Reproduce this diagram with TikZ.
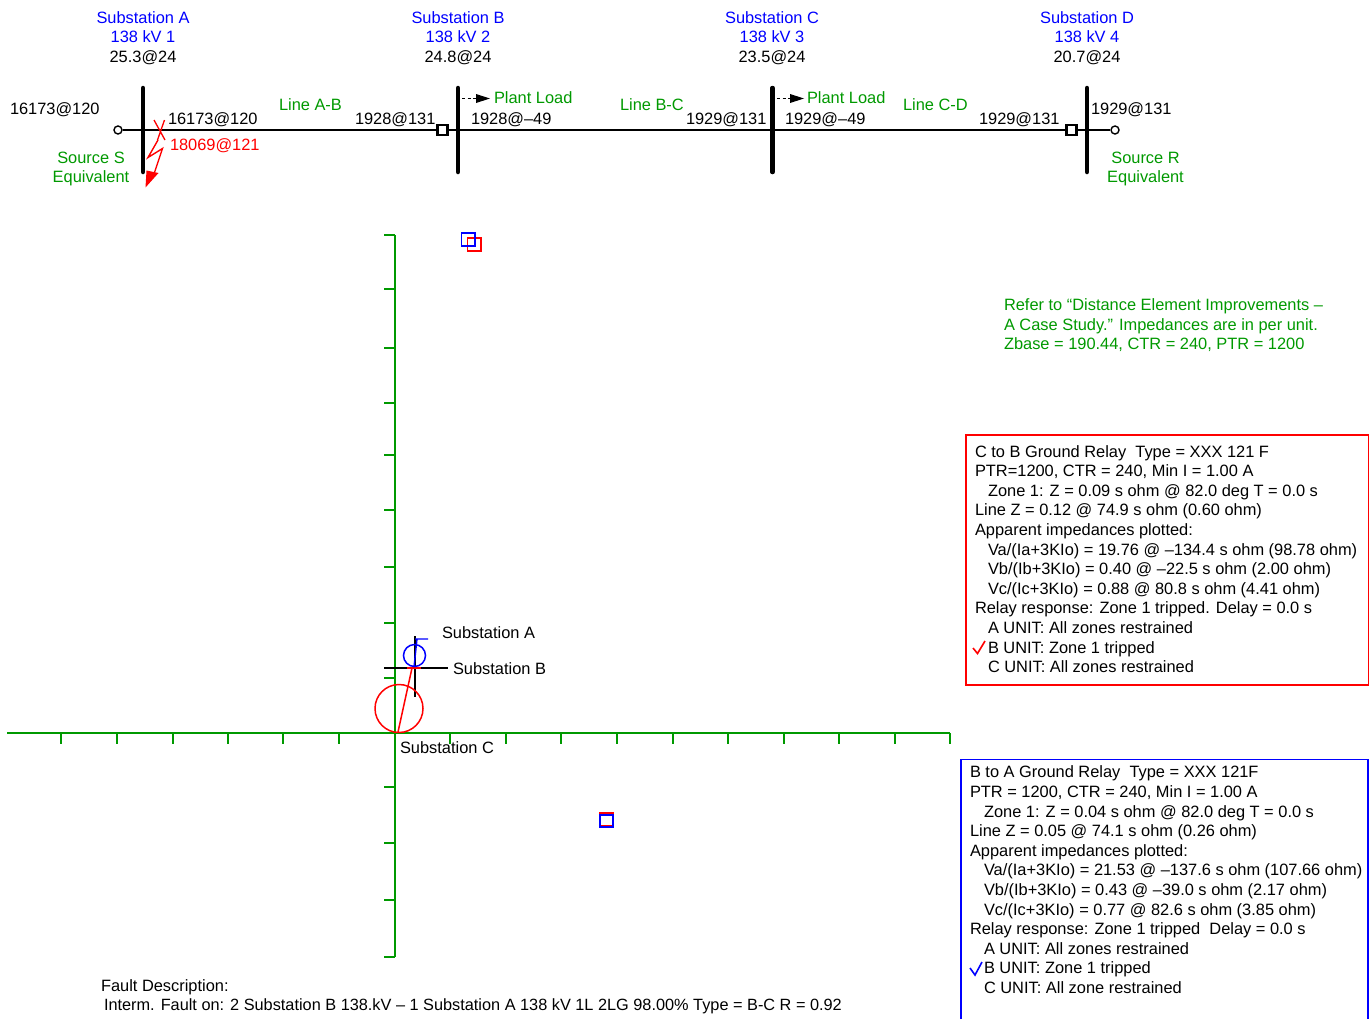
\documentclass[tikz,border=0pt]{standalone}
\usepackage{fontspec}
\setmainfont{Liberation Sans}
\definecolor{grn}{RGB}{0,153,0}
\tikzset{
  x=1bp,y=-1bp,
  txt/.style={inner sep=0pt,outer sep=0pt,anchor=base west,font=\fontsize{16.4bp}{19bp}\selectfont,text=black},
  ctr/.style={txt,anchor=base},
  gtxt/.style={txt,text=grn},
  rtxt/.style={txt,text=red},
  busbar/.style={line width=4.5bp,line cap=round,black},
  term/.style={circle,draw=black,fill=white,line width=1.4bp,minimum size=8bp,inner sep=0pt},
  brk/.style={rectangle,draw=black,fill=white,line width=2.2bp,minimum size=10bp,inner sep=0pt},
  axis/.style={draw=grn,line width=1.4bp},
  loadflow/.style={black,line width=1.3bp,dash pattern=on 3bp off 2.5bp},
}
\begin{document}
\begin{tikzpicture}
\useasboundingbox (0,0) rectangle (1372,1019);
% one-line diagram
\node[term] (srcS) at (118,130) {};
\node[term] (srcR) at (1115,130) {};
\node[brk] (brkB) at (442.5,130) {};
\node[brk] (brkD) at (1071.5,130) {};
\draw[line width=1.4bp] (srcS) -- (brkB) -- (brkD) -- (srcR);
\foreach \n/\x in {A/143,B/458,C/772.5,D/1087}{
  \coordinate (bus\n t) at (\x,88);
  \coordinate (bus\n b) at (\x,172);
  \draw[busbar] (bus\n t) -- (bus\n b);
}
\node[brk] (brkBtop) at (442.5,130) {};
\node[brk] (brkDtop) at (1071.5,130) {};
% plant loads
\coordinate (la) at (462,98.5); \coordinate (lb) at (476,98.5); \coordinate (lc) at (490,98.5);
\coordinate (ld) at (777,98.5); \coordinate (le) at (790,98.5); \coordinate (lf) at (804,98.5);
\draw[loadflow] (la) -- (lb);
\draw[loadflow] (ld) -- (le);
\fill (lb) ++(0,-4.5) -- (lc) -- (476,103) -- cycle;
\fill (le) ++(0,-4.5) -- (lf) -- (790,103) -- cycle;
% fault
\draw[red,line width=1.3bp] (154,120) -- (165,140) (164.5,120) -- (157.5,140);
\draw[red,line width=1.4bp] (158,140) -- (148,157.5) -- (162.5,148.5) -- (154,174);
\fill[red] (145.5,187.5) -- (146.5,170.5) -- (158.5,173) -- cycle;
% header labels
\foreach \i/\x/\na/\nb/\v in {1/143/A/1/25.3@24,2/458/B/2/24.8@24,3/772/C/3/23.5@24,4/1087/D/4/20.7@24}{
  \node[ctr,text=blue] (subn\i) at (\x,23) {Substation \na};
  \node[ctr,text=blue] (subk\i) at (\x,42) {138 kV \nb};
  \node[ctr] (subv\i) at (\x,62) {\v};
}
\node[txt] (f1) at (10,114) {16173@120};
\node[txt] (f2) at (168,124) {16173@120};
\node[rtxt] (f3) at (170,150) {18069@121};
\node[gtxt] (l1) at (279,110) {Line A-B};
\node[txt] (f4) at (355,124) {1928@131};
\node[txt] (f5) at (471,124) {1928@–49};
\node[gtxt] (p1) at (494,103) {Plant Load};
\node[gtxt] (l2) at (620,110) {Line B-C};
\node[txt] (f6) at (686,124) {1929@131};
\node[txt] (f7) at (785,124) {1929@–49};
\node[gtxt] (p2) at (807,103) {Plant Load};
\node[gtxt] (l3) at (903,110) {Line C-D};
\node[txt] (f8) at (979,124) {1929@131};
\node[txt] (f9) at (1091,114) {1929@131};
\node[ctr,text=grn] (s1) at (91,163) {Source S};
\node[ctr,text=grn] (s2) at (91,182) {Equivalent};
\node[ctr,text=grn] (s3) at (1145.5,163) {Source R};
\node[ctr,text=grn] (s4) at (1145.5,182) {Equivalent};
% note
\node[gtxt] (n1) at (1004,310) {Refer to “Distance Element Improvements –};
\node[gtxt] (n2) at (1004,330) {A Case Study.” Impedances are in per unit.};
\node[gtxt] (n3) at (1004,349) {Zbase = 190.44, CTR = 240, PTR = 1200};
% axes
\coordinate (vt) at (395,235); \coordinate (vb) at (395,957);
\coordinate (hl) at (7,733); \coordinate (hr) at (950,733);
\draw[axis] (vt) -- (vb);
\draw[axis] (hl) -- (hr);
\foreach \y in {235,289,348,403,455,510,567,623,678,787,843,900,957}
  \draw[axis] (384,\y) -- (395,\y);
\foreach \x in {61,117,173,228,283,339,450,506,561,617,673,728,784,839,895,950}
  \draw[axis] (\x,733) -- (\x,744);
% plot
\draw[line width=1.3bp] (415,636) -- (415,697);
\draw[line width=1.3bp] (384,668) -- (448,668);
\draw[red,line width=1.5bp] (399,708.5) circle (24);
\draw[red,line width=1.5bp] (398,732) -- (412,668);
\draw[red,line width=1.6bp] (407,668) -- (421,668);
\draw[blue,line width=1.5bp] (414.5,655.5) circle (11);
\draw[blue,line width=1.4bp] (414,667) -- (417,639) (415,639) -- (428,639);
\draw[red,line width=1.5bp] (467.5,238) rectangle (481,251);
\draw[blue,line width=1.5bp] (461.5,233) rectangle (475,246);
\draw[red,line width=1.5bp] (600,813) rectangle (613,825.5);
\draw[blue,line width=1.4bp] (600,815) rectangle (613,827);
\node[txt] (pa) at (442,638) {Substation A};
\node[txt] (pb) at (453,674) {Substation B};
\node[txt] (pc) at (400,753) {Substation C};
\node[txt] (d1) at (101,991) {Fault Description:};
\node[txt,font=\fontsize{16.3bp}{19bp}\selectfont] (d2) at (104,1010) {Interm. Fault on: 2 Substation B 138.kV – 1 Substation A 138 kV 1L 2LG 98.00\% Type = B-C R = 0.92};
% red box
\draw[red,line width=1.5bp] (966,435) rectangle (1368.5,685);
\node[txt] (r1) at (975,457) {C to B Ground Relay\ \ Type = XXX 121 F};
\node[txt] (r2) at (975,476.5) {PTR=1200, CTR = 240, Min I = 1.00 A};
\node[txt] (r3) at (988,496) {Zone 1: Z = 0.09 s ohm @ 82.0 deg T = 0.0 s};
\node[txt] (r4) at (975,515) {Line Z = 0.12 @ 74.9 s ohm (0.60 ohm)};
\node[txt] (r5) at (975,535) {Apparent impedances plotted:};
\node[txt] (r6) at (988,555) {Va/(Ia+3KIo) = 19.76 @ –134.4 s ohm (98.78 ohm)};
\node[txt] (r7) at (988,574) {Vb/(Ib+3KIo) = 0.40 @ –22.5 s ohm (2.00 ohm)};
\node[txt] (r8) at (988,594) {Vc/(Ic+3KIo) = 0.88 @ 80.8 s ohm (4.41 ohm)};
\node[txt] (r9) at (975,613) {Relay response: Zone 1 tripped. Delay = 0.0 s};
\node[txt] (r10) at (988,633) {A UNIT: All zones restrained};
\node[txt] (r11) at (988,653) {B UNIT: Zone 1 tripped};
\node[txt] (r12) at (988,672) {C UNIT: All zones restrained};
\draw[red,line width=1.6bp] (973,648) -- (977.5,653.5) -- (985,641);
% blue box
\draw[blue,line width=1.5bp] (961,1019) -- (961,759.5) -- (1368,759.5) -- (1368,1019);
\node[txt] (b1) at (970,777) {B to A Ground Relay\ \ Type = XXX 121F};
\node[txt] (b2) at (970,797) {PTR = 1200, CTR = 240, Min I = 1.00 A};
\node[txt] (b3) at (984,817) {Zone 1: Z = 0.04 s ohm @ 82.0 deg T = 0.0 s};
\node[txt] (b4) at (970,836) {Line Z = 0.05 @ 74.1 s ohm (0.26 ohm)};
\node[txt] (b5) at (970,856) {Apparent impedances plotted:};
\node[txt] (b6) at (984,875.5) {Va/(Ia+3KIo) = 21.53 @ –137.6 s ohm (107.66 ohm)};
\node[txt] (b7) at (984,895) {Vb/(Ib+3KIo) = 0.43 @ –39.0 s ohm (2.17 ohm)};
\node[txt] (b8) at (984,915) {Vc/(Ic+3KIo) = 0.77 @ 82.6 s ohm (3.85 ohm)};
\node[txt] (b9) at (970,934) {Relay response: Zone 1 tripped\ \ Delay = 0.0 s};
\node[txt] (b10) at (984,954) {A UNIT: All zones restrained};
\node[txt] (b11) at (984,973) {B UNIT: Zone 1 tripped};
\node[txt] (b12) at (984,993) {C UNIT: All zone restrained};
\draw[blue,line width=1.6bp] (970,968) -- (975,975) -- (982,962);
\end{tikzpicture}
\end{document}
